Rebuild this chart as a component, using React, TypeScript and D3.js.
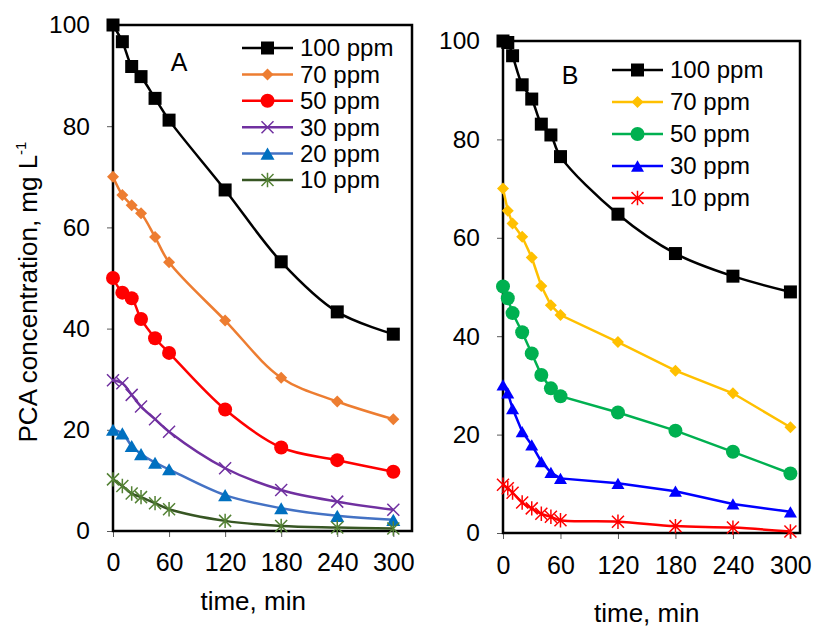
import { useEffect, useRef } from 'react';
import * as d3 from 'd3';

// panel A: sampling times (min) and concentrations (mg/L)
const timesA = [0, 10, 20, 30, 45, 60, 120, 180, 240, 300];
const a100 = [100, 96.7, 91.8, 89.8, 85.5, 81.2, 67.4, 53.2, 43.3, 38.9];
const a70 = [70.0, 66.4, 64.4, 62.8, 58.1, 53.1, 41.6, 30.3, 25.6, 22.1];
const a50 = [50.0, 47.1, 46.0, 41.9, 38.1, 35.2, 24.0, 16.5, 14.0, 11.7];
const a30 = [29.8, 29.2, 26.9, 24.6, 22.1, 19.6, 12.4, 8.1, 5.8, 4.2];
const a20 = [20.0, 19.3, 16.8, 15.2, 13.5, 12.2, 7.1, 4.5, 3.0, 2.2];
const a10 = [10.2, 8.9, 7.4, 6.7, 5.5, 4.3, 2.0, 1.0, 0.7, 0.5];

// panel B
const timesB = [0, 5, 10, 20, 30, 40, 50, 60, 120, 180, 240, 300];
const b100 = [100, 99.7, 97.0, 91.1, 88.2, 83.1, 80.9, 76.5, 64.8, 56.8, 52.2, 49.0];
const b70 = [70.0, 65.5, 62.9, 60.2, 56.0, 50.2, 46.3, 44.3, 38.8, 33.0, 28.4, 21.5];
const b50 = [50.1, 47.7, 44.7, 40.8, 36.5, 32.1, 29.4, 27.8, 24.5, 20.8, 16.5, 12.1];
const b30 = [30.1, 28.5, 25.3, 20.6, 17.9, 14.5, 12.3, 11.1, 10.1, 8.5, 5.9, 4.3];
const b10 = [9.8, 9.1, 8.2, 6.2, 5.0, 3.9, 3.3, 2.6, 2.3, 1.4, 1.1, 0.3];

const xTicks = [0, 60, 120, 180, 240, 300];
const yTicks = [0, 20, 40, 60, 80, 100];

type Marker = 'square' | 'diamond' | 'circle' | 'x' | 'triangle' | 'star';

interface Series {
  label: string;
  values: number[];
  line: string;
  mark: string;
  marker: Marker;
  size: number;
  smooth: boolean;
}

const seriesA: Series[] = [
  { label: '100 ppm', values: a100, line: '#000000', mark: '#000000', marker: 'square', size: 13, smooth: true },
  { label: '70 ppm', values: a70, line: '#ED7D31', mark: '#ED7D31', marker: 'diamond', size: 12, smooth: true },
  { label: '50 ppm', values: a50, line: '#FF0000', mark: '#FF0000', marker: 'circle', size: 14, smooth: true },
  { label: '30 ppm', values: a30, line: '#7030A0', mark: '#7030A0', marker: 'x', size: 12, smooth: true },
  { label: '20 ppm', values: a20, line: '#4472C4', mark: '#0070C0', marker: 'triangle', size: 14, smooth: true },
  { label: '10 ppm', values: a10, line: '#375623', mark: '#548235', marker: 'star', size: 12, smooth: true },
];

const seriesB: Series[] = [
  { label: '100 ppm', values: b100, line: '#000000', mark: '#000000', marker: 'square', size: 13, smooth: true },
  { label: '70 ppm', values: b70, line: '#FFC000', mark: '#FFC000', marker: 'diamond', size: 12, smooth: false },
  { label: '50 ppm', values: b50, line: '#00B050', mark: '#00B050', marker: 'circle', size: 14, smooth: false },
  { label: '30 ppm', values: b30, line: '#0000FF', mark: '#0000FF', marker: 'triangle', size: 13, smooth: false },
  { label: '10 ppm', values: b10, line: '#FF0000', mark: '#FF0000', marker: 'star', size: 12, smooth: true },
];

const FONT = '"Liberation Sans", Arial, sans-serif';

function markerPath(type: Marker, s: number): string {
  const h = s / 2;
  switch (type) {
    case 'square':
      return `M${-h},${-h}h${s}v${s}h${-s}Z`;
    case 'diamond':
      return `M0,${-h}L${h},0L0,${h}L${-h},0Z`;
    case 'triangle': {
      const th = s * 0.866 / 2;
      return `M0,${-th}L${h},${th}L${-h},${th}Z`;
    }
    case 'x':
      return `M${-h},${-h}L${h},${h}M${-h},${h}L${h},${-h}`;
    case 'star':
      return `M${-h},${-h}L${h},${h}M${-h},${h}L${h},${-h}M0,${-h * 1.2}L0,${h * 1.2}`;
    default:
      return '';
  }
}

function drawMarker(g: d3.Selection<SVGGElement, unknown, null, undefined>, s: Series, x: number, y: number) {
  if (s.marker === 'circle') {
    g.append('circle').attr('cx', x).attr('cy', y).attr('r', s.size / 2).attr('fill', s.mark);
  } else if (s.marker === 'x' || s.marker === 'star') {
    g.append('path')
      .attr('transform', `translate(${x},${y})`)
      .attr('d', markerPath(s.marker, s.size))
      .attr('fill', 'none')
      .attr('stroke', s.mark)
      .attr('stroke-width', 1.5);
  } else {
    g.append('path')
      .attr('transform', `translate(${x},${y})`)
      .attr('d', markerPath(s.marker, s.size))
      .attr('fill', s.mark);
  }
}

interface PanelCfg {
  times: number[];
  series: Series[];
  left: number;
  right: number;
  top: number;
  bottom: number;
  xMax: number;
  tag: string;
  tagPos: [number, number];
  legendX: number;
  legendY: number;
  legendStep: number;
  xLabelTop: number;
  titleY: number;
}

function drawPanel(svg: d3.Selection<SVGSVGElement, unknown, null, undefined>, p: PanelCfg) {
  const g = svg.append('g');
  const x = d3.scaleLinear().domain([0, p.xMax]).range([p.left, p.right]);
  const y = d3.scaleLinear().domain([0, 100]).range([p.bottom, p.top]);

  // y axis
  const yAxis = d3.axisLeft(y).tickValues(yTicks).tickSize(6).tickPadding(17);
  g.append('g')
    .attr('transform', `translate(${p.left},0)`)
    .call(yAxis)
    .call(a => a.select('.domain').remove())
    .call(a => a.selectAll('line').attr('stroke', '#595959').attr('stroke-width', 1))
    .call(a => a.selectAll('text').attr('fill', '#000').attr('font-size', 24.5).attr('font-family', FONT));

  // x axis
  const xAxis = d3.axisBottom(x).tickValues(xTicks).tickSize(6).tickPadding(p.xLabelTop - 6);
  g.append('g')
    .attr('transform', `translate(0,${p.bottom})`)
    .call(xAxis)
    .call(a => a.select('.domain').remove())
    .call(a => a.selectAll('line').attr('stroke', '#595959').attr('stroke-width', 1))
    .call(a => a.selectAll('text').attr('fill', '#000').attr('font-size', 25).attr('font-family', FONT));

  // frame
  g.append('rect')
    .attr('x', p.left)
    .attr('y', p.top)
    .attr('width', p.right - p.left)
    .attr('height', p.bottom - p.top)
    .attr('fill', 'none')
    .attr('stroke', '#000')
    .attr('stroke-width', 2.5);

  // series
  p.series.forEach(s => {
    const pts: [number, number][] = p.times.map((t, i) => [x(t), y(s.values[i])]);
    const line = d3.line().curve(s.smooth ? d3.curveCatmullRom : d3.curveLinear);
    g.append('path')
      .attr('d', line(pts) || '')
      .attr('fill', 'none')
      .attr('stroke', s.line)
      .attr('stroke-width', 2.5);
    pts.forEach(([px, py]) => drawMarker(g, s, px, py));
  });

  // legend
  p.series.forEach((s, i) => {
    const ly = p.legendY + i * p.legendStep;
    g.append('line')
      .attr('x1', p.legendX)
      .attr('x2', p.legendX + 51)
      .attr('y1', ly)
      .attr('y2', ly)
      .attr('stroke', s.line)
      .attr('stroke-width', 2.5);
    drawMarker(g, s, p.legendX + 25.5, ly);
    g.append('text')
      .attr('x', p.legendX + 58)
      .attr('y', ly)
      .attr('dy', '0.35em')
      .attr('font-size', 24)
      .attr('font-family', FONT)
      .text(s.label);
  });

  g.append('text')
    .attr('x', p.tagPos[0])
    .attr('y', p.tagPos[1])
    .attr('dy', '0.35em')
    .attr('text-anchor', 'middle')
    .attr('font-size', 25)
    .attr('font-family', FONT)
    .text(p.tag);

  g.append('text')
    .attr('x', (x(0) + x(300)) / 2)
    .attr('y', p.titleY)
    .attr('text-anchor', 'middle')
    .attr('font-size', 26)
    .attr('font-family', FONT)
    .text('time, min');
}

export default function App() {
  const svgRef = useRef<SVGSVGElement>(null);

  useEffect(() => {
    if (!svgRef.current) return;
    const svg = d3.select(svgRef.current);
    svg.selectAll('*').remove();

    drawPanel(svg, {
      times: timesA, series: seriesA,
      left: 113, right: 412, top: 25, bottom: 531, xMax: 320,
      tag: 'A', tagPos: [179, 62],
      legendX: 242, legendY: 48, legendStep: 26.4,
      xLabelTop: 22, titleY: 610,
    });

    drawPanel(svg, {
      times: timesB, series: seriesB,
      left: 503, right: 800, top: 41, bottom: 533, xMax: 310,
      tag: 'B', tagPos: [570, 75],
      legendX: 612, legendY: 70, legendStep: 32,
      xLabelTop: 23, titleY: 622,
    });

    const title = svg.append('text')
      .attr('transform', 'translate(37,292) rotate(-90)')
      .attr('text-anchor', 'middle')
      .attr('font-size', 26)
      .attr('font-family', FONT);
    title.append('tspan').text('PCA concentration, mg L');
    title.append('tspan').attr('font-size', 15).attr('dy', -11).text('-1');
  }, []);

  return (
    <svg
      ref={svgRef}
      width={816}
      height={628}
      style={{ position: 'absolute', left: 0, top: 0, background: '#fff' }}
    />
  );
}
